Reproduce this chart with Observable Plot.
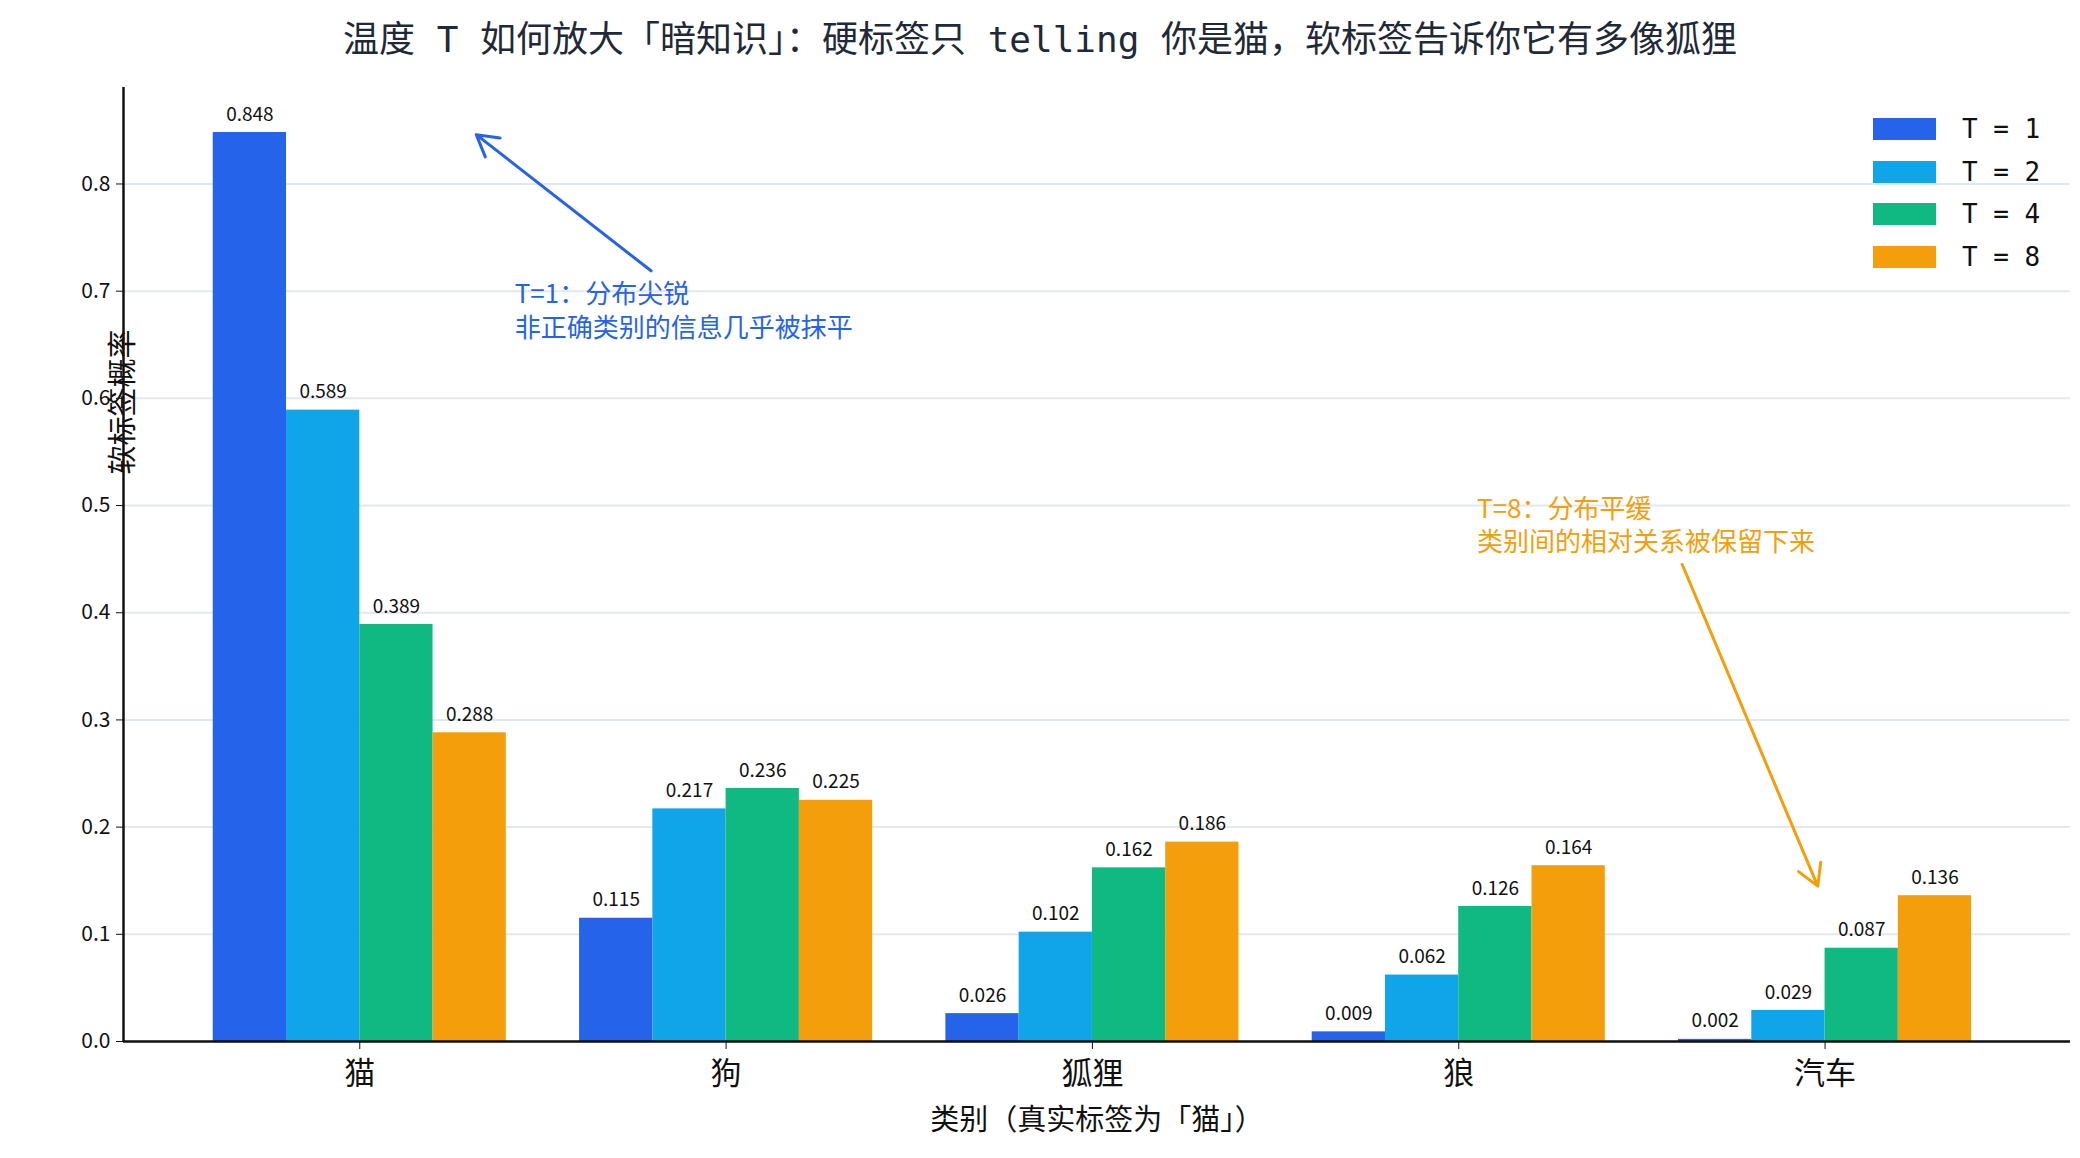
<!DOCTYPE html>
<html><head><meta charset="utf-8">
<script src="https://cdn.jsdelivr.net/npm/d3@7"></script>
<script src="https://cdn.jsdelivr.net/npm/@observablehq/plot@0.6"></script>
<style>
body{margin:0;background:#fff;font-family:"Noto Sans CJK SC",sans-serif;}
#wrap{position:relative;width:2080px;}
#title{height:70px;line-height:80px;text-align:center;font-size:36px;color:#1f2937;font-family:"DejaVu Sans Mono","Noto Sans CJK SC",sans-serif;}
#legend{position:absolute;left:1873px;top:108px;font-size:26px;color:#111;font-family:"DejaVu Sans Mono","Noto Sans CJK SC",sans-serif;}
#legend div{display:flex;align-items:center;height:42.6px;}
#legend span.sw{display:inline-block;width:63px;height:22px;margin-right:26px;}
</style></head><body>
<div id="wrap"><div id="title">温度 T 如何放大「暗知识」：硬标签只 telling 你是猫，软标签告诉你它有多像狐狸</div><div id="chart"></div><div id="legend"></div></div>
<script>
const categories = ["猫","狗","狐狸","狼","汽车"];
const temps = ["T = 1","T = 2","T = 4","T = 8"];
const colors = ["#2563eb","#10a5e9","#10b981","#f59e0b"];
const valuesT1 = [0.848,0.115,0.026,0.009,0.002];
const valuesT2 = [0.589,0.217,0.102,0.062,0.029];
const valuesT4 = [0.389,0.236,0.162,0.126,0.087];
const valuesT8 = [0.288,0.225,0.186,0.164,0.136];
const yTicks = [0,0.1,0.2,0.3,0.4,0.5,0.6,0.7,0.8];
const annotations = [
  {text:"T=1：分布尖锐\n非正确类别的信息几乎被抹平", x:0.423, y:0.698, color:"#2563eb", x1:0.795, y1:0.719, x2:0.318, y2:0.846},
  {text:"T=8：分布平缓\n类别间的相对关系被保留下来", x:3.05, y:0.498, color:"#f59e0b", x1:3.61, y1:0.445, x2:3.98, y2:0.145}
];

const series = [valuesT1,valuesT2,valuesT4,valuesT8];
const w = 0.2;
const rows = [];
series.forEach((vals,j)=>vals.forEach((v,i)=>rows.push({i, j, t:temps[j], v, x1:i+(j-2)*w, x2:i+(j-1)*w})));

const plot = Plot.plot({
  width:2080, height:1088,
  marginLeft:123, marginRight:10, marginTop:17, marginBottom:117,
  style:{fontFamily:"'Noto Sans CJK SC',sans-serif", fontSize:"19px", color:"#111"},
  x:{domain:[-0.645,4.67], ticks:[0,1,2,3,4], tickFormat:d=>categories[d], label:null},
  y:{domain:[0,0.89], label:null},
  color:{domain:temps, range:colors},
  marks:[
    Plot.gridY(yTicks,{stroke:"#e2e8f0", strokeOpacity:1, strokeWidth:2}),
    Plot.rectY(rows,{x1:"x1", x2:"x2", y:"v", fill:"t"}),
    Plot.text(rows,{x:d=>(d.x1+d.x2)/2, y:"v", text:d=>d.v.toFixed(3), dy:-18, fontSize:19, fill:"#111"}),
    Plot.axisY(yTicks,{tickFormat:".1f", fontSize:21, tickSize:7, tickPadding:6, label:null}),
    Plot.axisX([0,1,2,3,4],{tickFormat:d=>categories[d], fontSize:31, tickSize:8, tickPadding:12, label:null}),
    Plot.ruleY([0],{stroke:"#111", strokeWidth:2.5}),
    Plot.ruleX([-0.645],{stroke:"#111", strokeWidth:2.5}),
    Plot.arrow(annotations,{x1:"x1",y1:"y1",x2:"x2",y2:"y2",stroke:"color",strokeWidth:3,headLength:12}),
    Plot.text(annotations,{x:"x",y:"y",text:"text",fill:"color",textAnchor:"start",lineAnchor:"middle",fontSize:26,lineHeight:1.28,dy:16}),
    Plot.text(["类别（真实标签为「猫」）"],{frameAnchor:"bottom",dy:88,fontSize:29,fill:"#111"}),
    Plot.text(["软标签概率"],{frameAnchor:"left",dy:-90,rotate:-90,fontSize:29,fill:"#111"})
  ]
});
document.getElementById("chart").appendChild(plot);
const lg = document.getElementById("legend");
temps.forEach((t,j)=>{const d=document.createElement("div");d.innerHTML=`<span class="sw" style="background:${colors[j]}"></span>${t}`;lg.appendChild(d);});
</script></body></html>
